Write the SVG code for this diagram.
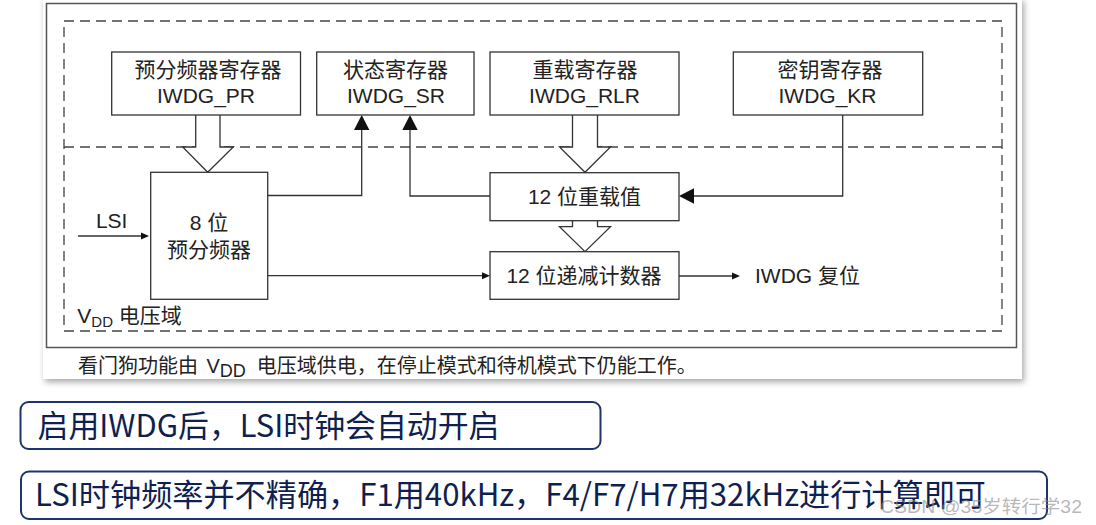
<svg xmlns="http://www.w3.org/2000/svg" width="1096" height="525" viewBox="0 0 1096 525">
<defs>
<filter id="sh" x="-5%" y="-5%" width="110%" height="115%">
<feDropShadow dx="2" dy="3" stdDeviation="3" flood-color="#000" flood-opacity="0.35"/>
</filter>
<style>
.box{fill:#fff;stroke:#333;stroke-width:1.3}
.ln{fill:none;stroke:#333;stroke-width:1.3}
.hol{fill:#fff;stroke:#333;stroke-width:1.3;stroke-linejoin:miter}
.dash{fill:none;stroke:#444;stroke-width:1.3;stroke-dasharray:10 6}
.ah{fill:#111}
.t{font-family:'Liberation Sans','Noto Sans CJK SC',sans-serif;font-size:21px;fill:#222;text-anchor:middle}
.tl{font-family:'Liberation Sans','Noto Sans CJK SC',sans-serif;font-size:21px;fill:#222}
.cap{font-family:'Liberation Sans','Noto Sans CJK SC',sans-serif;font-size:20px;fill:#222}
.note{fill:#fff;stroke:#1e3470;stroke-width:2}
.nt{font-family:'Noto Sans CJK SC',sans-serif;font-size:31px;fill:#0f1f50}
</style>
</defs>
<rect x="0" y="0" width="1096" height="525" fill="#fff"/>
<g id="panel">
<rect x="43" y="-2" width="979" height="381" fill="#fff" filter="url(#sh)"/>
<rect x="46.5" y="3.5" width="970" height="344" fill="none" stroke="#555" stroke-width="1.5"/>
<rect x="64" y="21" width="938" height="310" class="dash"/>
<line x1="64" y1="147" x2="1002" y2="147" class="dash"/>
</g>
<g id="connectors">
<path class="hol" d="M195.7,115 V147 H182.7 L207.7,172.3 L233.3,147 H220 V115"/>
<path class="hol" d="M572.5,115 V147 H559.5 L585,172.3 L610.5,147 H597.5 V115"/>
<path class="hol" d="M572.5,220.7 V226.7 H559.5 L585,251.7 L610.5,226.7 H597.5 V220.7"/>
<path class="ln" d="M267.7,195.5 H361.7 V129"/>
<polygon class="ah" points="361.7,115 354,130 369.4,130"/>
<path class="ln" d="M490,196 H410 V129"/>
<polygon class="ah" points="410,115 402.3,130 417.7,130"/>
<path class="ln" d="M842.7,115 V196 H693"/>
<polygon class="ah" points="679,196 694,188.3 694,203.7"/>
<path class="ln" d="M78,236 H143"/>
<polygon class="ah" points="149,236 141,232.5 141,239.5"/>
<path class="ln" d="M267.7,275.7 H484"/>
<polygon class="ah" points="490,275.7 482,272.2 482,279.2"/>
<path class="ln" d="M679,276 H734"/>
<polygon class="ah" points="740,276 732,272.5 732,279.5"/>
</g>
<g id="n-pr">
<rect class="box" x="111.7" y="52" width="188.8" height="63"/>
<text class="t" x="208" y="77">预分频器寄存器</text>
<text class="t" x="206" y="103">IWDG_PR</text>
</g>
<g id="n-sr">
<rect class="box" x="316.7" y="52" width="157.3" height="63"/>
<text class="t" x="395.5" y="77">状态寄存器</text>
<text class="t" x="396" y="103">IWDG_SR</text>
</g>
<g id="n-rlr">
<rect class="box" x="490" y="52" width="189" height="63"/>
<text class="t" x="585" y="77">重载寄存器</text>
<text class="t" x="584.5" y="103">IWDG_RLR</text>
</g>
<g id="n-kr">
<rect class="box" x="733.3" y="52" width="189.4" height="63"/>
<text class="t" x="830" y="77">密钥寄存器</text>
<text class="t" x="827.5" y="103">IWDG_KR</text>
</g>
<g id="n-presc">
<rect class="box" x="150.7" y="172.3" width="117" height="127"/>
<text class="t" x="209" y="230">8 位</text>
<text class="t" x="209" y="257">预分频器</text>
</g>
<g id="n-reload">
<rect class="box" x="490" y="172.7" width="189" height="48"/>
<text class="t" x="584.5" y="204">12 位重载值</text>
</g>
<g id="n-counter">
<rect class="box" x="490" y="251.7" width="189" height="47.6"/>
<text class="t" x="584" y="283">12 位递减计数器</text>
</g>
<g id="labels">
<text class="t" x="111.7" y="228">LSI</text>
<text class="tl" x="755" y="283">IWDG 复位</text>
<text class="tl" x="77.3" y="323">V<tspan font-size="15" dy="4">DD</tspan><tspan dy="-4"> 电压域</tspan></text>
<text class="cap" x="78" y="373">看门狗功能由 <tspan x="206.5">V</tspan><tspan font-size="18" dy="4">DD</tspan><tspan dy="-4" x="256.7">电压域供电，在停止模式和待机模式下仍能工作。</tspan></text>
</g>
<g id="note1">
<rect class="note" x="20.5" y="402" width="580" height="47" rx="8"/>
<text class="nt" x="37.5" y="437" textLength="462" lengthAdjust="spacingAndGlyphs">启用IWDG后，LSI时钟会自动开启</text>
</g>
<g id="note2">
<rect class="note" x="21" y="471.5" width="1026" height="47.5" rx="8"/>
<text class="nt" x="35" y="506" textLength="951" lengthAdjust="spacingAndGlyphs">LSI时钟频率并不精确，F1用40kHz，F4/F7/H7用32kHz进行计算即可</text>
</g>
<text x="880" y="513" font-family="'Liberation Sans','Noto Sans CJK SC',sans-serif" font-size="18" fill="#888" fill-opacity="0.6" textLength="202" lengthAdjust="spacingAndGlyphs">CSDN @35岁转行学32</text>
</svg>
